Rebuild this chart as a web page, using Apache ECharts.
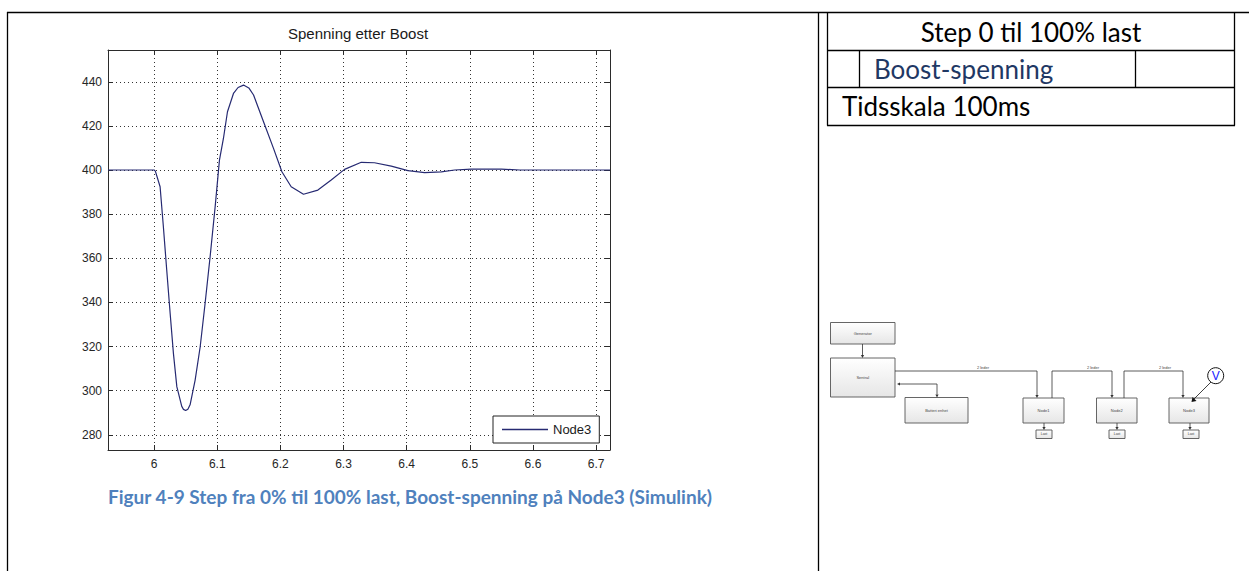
<!DOCTYPE html>
<html>
<head>
<meta charset="utf-8">
<script src="https://cdn.jsdelivr.net/npm/echarts@6/dist/echarts.min.js"></script>
<style>
html,body{margin:0;padding:0;background:#fff;}
#chart{width:1249px;height:571px;}
</style>
</head>
<body>
<div id="chart"></div>
<script>
// ---- data ----
const chartTitle = 'Spenning etter Boost';
const seriesName = 'Node3';
const time = [5.927, 6.0, 6.002, 6.0095, 6.0147, 6.020, 6.0254, 6.0306, 6.036, 6.0439, 6.0465, 6.050, 6.0535, 6.057, 6.065, 6.073, 6.0808, 6.0887, 6.0967, 6.1035, 6.1098, 6.1162, 6.1257, 6.133, 6.1416, 6.150, 6.1575, 6.1733, 6.1891, 6.2024, 6.2171, 6.2366, 6.2594, 6.2805, 6.3016, 6.3281, 6.349, 6.3756, 6.402, 6.4284, 6.4548, 6.476, 6.5024, 6.55, 6.579, 6.722];
const node3 = [400, 400, 399.5, 392.4, 374.3, 354.7, 335.1, 316.9, 301.8, 292.8, 291.5, 291.0, 291.6, 293.6, 304.8, 319.9, 339.6, 360.7, 383.4, 404.5, 414.3, 426.4, 434.7, 437.4, 438.5, 437.2, 434.0, 421.9, 409.8, 399.2, 392.4, 389.0, 390.9, 395.5, 400.3, 403.5, 403.3, 401.8, 399.7, 398.8, 399.2, 400.0, 400.4, 400.4, 400.0, 400.0];
const xTicks = [6, 6.1, 6.2, 6.3, 6.4, 6.5, 6.6, 6.7];
const yTicks = [280, 300, 320, 340, 360, 380, 400, 420, 440];
const xRange = [5.927, 6.722];
const yRange = [273.1, 454.4];

const captionText = 'Figur 4-9 Step fra 0% til 100% last, Boost-spenning på Node3 (Simulink)';
const tableRows = ['Step 0 til 100% last', 'Boost-spenning', 'Tidsskala 100ms'];
const diagramLabels = ['Generator', 'Sentral', 'Batteri enhet', 'Node1', 'Node2', 'Node3', 'Last', '2 leder', 'V'];

const points = time.map((t, i) => [t, node3[i]]);

const AX = '#2b2b2b';
const FONT = '"Liberation Sans", Arial, sans-serif';
const CAL = 'Lato, "Open Sans", sans-serif';

function axisCommon(vals, showLabel, margin) {
  return {
    axisLine: {show: true, lineStyle: {color: AX, width: 1}},
    axisTick: {show: true, inside: true, length: 5, customValues: vals, lineStyle: {color: AX}},
    axisLabel: {show: showLabel, customValues: vals, color: '#262626', fontSize: 12, fontFamily: FONT, margin: margin,
      formatter: v => String(+(+v).toFixed(1))},
    splitLine: {show: false}
  };
}

// ---- diagram helpers (decorative picture in the reference) ----
const g = [];
function line(x1, y1, x2, y2, w, c) {
  g.push({type: 'line', shape: {x1, y1, x2, y2}, style: {stroke: c || '#000', lineWidth: w || 1}, silent: true});
}
function poly(pts, c) {
  g.push({type: 'polyline', shape: {points: pts}, style: {stroke: c || '#333', lineWidth: 0.8, fill: null}, silent: true});
}
function arrowDown(x, y) {
  g.push({type: 'polygon', shape: {points: [[x - 1.6, y - 3], [x + 1.6, y - 3], [x, y]]}, style: {fill: '#333'}, silent: true});
}
function arrowLeft(x, y) {
  g.push({type: 'polygon', shape: {points: [[x + 3, y - 1.6], [x + 3, y + 1.6], [x, y]]}, style: {fill: '#333'}, silent: true});
}
function box(x, y, w, h, label, fs) {
  g.push({type: 'rect', shape: {x, y, width: w, height: h},
    style: {fill: {type: 'linear', x: 0, y: 0, x2: 0, y2: 1, colorStops: [{offset: 0, color: '#ffffff'}, {offset: 1, color: '#e6e6e6'}]}, stroke: '#555', lineWidth: 0.9}, silent: true});
  g.push({type: 'text', x: x + w / 2, y: y + h / 2, style: {text: label, fontSize: fs || 4, fill: '#444', align: 'center', verticalAlign: 'middle', fontFamily: FONT}, silent: true});
}
function text(x, y, t, opts) {
  g.push(Object.assign({type: 'text', x, y, style: Object.assign({text: t, fill: '#000', fontFamily: CAL, fontSize: 26, verticalAlign: 'middle'}, opts || {})}, {silent: true}));
}

// outer document table frame
line(7, 12.5, 1249, 12.5, 1.3);
line(7.5, 12, 7.5, 571, 1.3);
line(818.5, 12, 818.5, 571, 1.3);

// inner table (right cell)
line(827.5, 12, 827.5, 125.5, 1.3);
line(1234.5, 12, 1234.5, 125.5, 1.3);
line(827, 50.5, 1235, 50.5, 1.3);
line(827, 87.5, 1235, 87.5, 1.3);
line(827, 125.5, 1235, 125.5, 1.3);
line(859.5, 50, 859.5, 87.5, 1.3);
line(1135.5, 50, 1135.5, 87.5, 1.3);
text(1031, 32, tableRows[0], {align: 'center'});
text(874, 69, tableRows[1], {fill: '#1f3864'});
text(842, 106, tableRows[2]);

// caption
text(108, 496, captionText, {fill: '#4f81bd', fontWeight: 'bold', fontSize: 19});

// block diagram
box(830.5, 322.5, 64.5, 21.5, diagramLabels[0]);
box(830.5, 358, 64.5, 39, diagramLabels[1]);
box(905, 397.5, 63, 25.5, diagramLabels[2]);
box(1023, 398, 41, 25, diagramLabels[3]);
box(1096.5, 398, 40.5, 25, diagramLabels[4]);
box(1169, 398, 40, 25, diagramLabels[5]);
box(1036, 430, 16, 8.5, diagramLabels[6], 3.5);
box(1109, 430, 16, 8.5, diagramLabels[6], 3.5);
box(1183, 430, 16, 8.5, diagramLabels[6], 3.5);
// connections
poly([[862.5, 344], [862.5, 355]]); arrowDown(862.5, 358);
poly([[895, 371], [1037, 371], [1037, 395]]); arrowDown(1037, 398);
poly([[900, 384], [937, 384], [937, 394.5]]); arrowDown(937, 397.5); arrowLeft(897, 384);
poly([[1052, 398], [1052, 371], [1112, 371], [1112, 395]]); arrowDown(1112, 398);
poly([[1124, 398], [1124, 371], [1183, 371], [1183, 395]]); arrowDown(1183, 398);
poly([[1044, 423], [1044, 427]]); arrowDown(1044, 430);
poly([[1117, 423], [1117, 427]]); arrowDown(1117, 430);
poly([[1190, 423], [1190, 427]]); arrowDown(1190, 430);
g.push({type: 'text', x: 983, y: 367, style: {text: diagramLabels[7], fontSize: 4, fill: '#444', align: 'center', verticalAlign: 'middle', fontFamily: FONT}, silent: true});
g.push({type: 'text', x: 1093, y: 367, style: {text: diagramLabels[7], fontSize: 4, fill: '#444', align: 'center', verticalAlign: 'middle', fontFamily: FONT}, silent: true});
g.push({type: 'text', x: 1165, y: 367, style: {text: diagramLabels[7], fontSize: 4, fill: '#444', align: 'center', verticalAlign: 'middle', fontFamily: FONT}, silent: true});
// voltmeter
g.push({type: 'circle', shape: {cx: 1215.7, cy: 375.7, r: 8}, style: {fill: '#fff', stroke: '#111', lineWidth: 1}, silent: true});
g.push({type: 'text', x: 1215.7, y: 376.2, style: {text: diagramLabels[8], fontSize: 12, fill: '#1a1aff', align: 'center', verticalAlign: 'middle', fontFamily: FONT}, silent: true});
poly([[1211, 382], [1194, 399]], '#111');
g.push({type: 'polygon', shape: {points: [[1191.5, 402], [1192.5, 397], [1196.5, 401]]}, style: {fill: '#111'}, silent: true});
// plot title
g.push({type: 'text', x: 358, y: 33, style: {text: chartTitle, fontSize: 15, fill: '#1a1a1a', align: 'center', verticalAlign: 'middle', fontFamily: FONT}, silent: true});

const chart = echarts.init(document.getElementById('chart'), null, {renderer: 'svg'});
chart.setOption({
  animation: false,
  backgroundColor: '#fff',
  grid: {left: 108, top: 50, width: 502, height: 400, show: true, backgroundColor: '#fff', borderWidth: 0},
  legend: {
    show: true, data: [seriesName], left: 493, top: 416, orient: 'horizontal',
    icon: 'rect', itemWidth: 46, itemHeight: 1.3, padding: [6, 8, 6, 9],
    borderColor: '#222', borderWidth: 1, backgroundColor: '#fff', borderRadius: 0,
    textStyle: {color: '#1a1a1a', fontSize: 13, fontFamily: FONT, lineHeight: 15}
  },
  xAxis: [
    Object.assign({type: 'value', min: xRange[0], max: xRange[1], position: 'bottom'}, axisCommon(xTicks, true, 8),
      {splitLine: {show: true, lineStyle: {color: '#333', type: [1, 3], width: 1}}}),
    Object.assign({type: 'value', min: xRange[0], max: xRange[1], position: 'top'}, axisCommon(xTicks, false, 8))
  ],
  yAxis: [
    Object.assign({type: 'value', min: yRange[0], max: yRange[1], position: 'left'}, axisCommon(yTicks, true, 6),
      {splitLine: {show: true, lineStyle: {color: '#333', type: [1, 3], width: 1}}}),
    Object.assign({type: 'value', min: yRange[0], max: yRange[1], position: 'right'}, axisCommon(yTicks, false, 6))
  ],
  series: [{
    name: seriesName, type: 'line', data: points, xAxisIndex: 0, yAxisIndex: 0,
    symbol: 'none', showSymbol: false, smooth: false,
    lineStyle: {color: '#262a72', width: 1.2}, itemStyle: {color: '#262a72'}
  }],
  graphic: g
});
</script>
</body>
</html>
